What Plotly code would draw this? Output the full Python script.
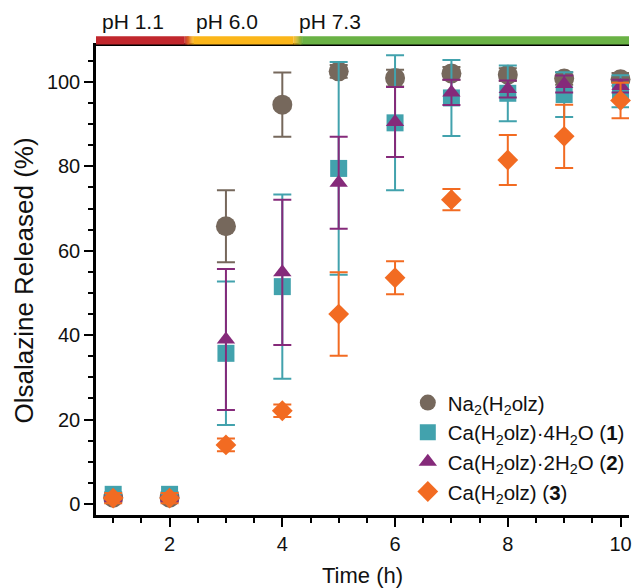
import plotly.graph_objects as go

# ---- data ----
time_h = [1, 2, 3, 4, 5, 6, 7, 8, 9, 10]

na2_mean = [1.5, 1.5, 65.8, 94.6, 102.5, 100.9, 102.0, 101.7, 100.8, 100.6]
na2_err = [0.5, 0.5, 8.5, 7.6, 1.5, 2.0, 1.5, 1.5, 1.5, 1.5]

ca1_mean = [2.3, 2.3, 35.7, 51.5, 79.5, 90.3, 96.2, 97.3, 97.0, 97.8]
ca1_err = [0.5, 0.5, 17.0, 21.8, 25.2, 16.0, 9.0, 6.6, 5.3, 3.8]

ca2_mean = [1.3, 1.3, 39.0, 54.9, 76.1, 90.5, 97.5, 98.3, 99.5, 99.0]
ca2_err = [0.5, 0.5, 16.7, 17.2, 10.9, 8.3, 3.0, 2.0, 2.0, 1.5]

ca3_mean = [1.4, 1.4, 14.0, 22.1, 45.0, 53.6, 72.1, 81.5, 87.1, 95.6]
ca3_err = [1.2, 1.2, 1.5, 1.5, 9.9, 3.9, 2.5, 5.9, 7.5, 4.2]

series_names = [
    "Na<sub>2</sub>(H<sub>2</sub>olz)",
    "Ca(H<sub>2</sub>olz)·4H<sub>2</sub>O (<b>1</b>)",
    "Ca(H<sub>2</sub>olz)·2H<sub>2</sub>O (<b>2</b>)",
    "Ca(H<sub>2</sub>olz) (<b>3</b>)",
]

ph_labels = ["pH 1.1", "pH 6.0", "pH 7.3"]
ph_switch_times = [2.34, 4.28]

x_ticks = [2, 4, 6, 8, 10]
y_ticks = [0, 20, 40, 60, 80, 100]

# ---- style ----
FONT = "Liberation Sans, Arial, Helvetica, sans-serif"
colors = ["#76685c", "#42a2ad", "#852a7a", "#f26b22"]
symbols = ["circle", "square", "triangle-up", "diamond"]
sizes = [20, 17, 16, 16]
ph_colors = [(193, 39, 45), (251, 182, 26), (106, 178, 69)]

X_RANGE = [0.695, 10.15]
Y_RANGE = [-2.6, 108.5]

fig = go.Figure()
for name, mean, err, c, s, sz in zip(
    series_names,
    [na2_mean, ca1_mean, ca2_mean, ca3_mean],
    [na2_err, ca1_err, ca2_err, ca3_err],
    colors, symbols, sizes,
):
    fig.add_trace(go.Scatter(
        x=time_h, y=mean, name=name, mode="markers", cliponaxis=False,
        marker=dict(symbol=s, size=sz, color=c, line=dict(width=0)),
        error_y=dict(type="data", array=err, visible=True, color=c,
                     thickness=2, width=9),
    ))

# pH bar with gradient transitions
shapes = []
bar_y0, bar_y1 = 1.003, 1.021
edges = [X_RANGE[0] - 0.04] + ph_switch_times + [X_RANGE[1] + 0.1]
hw = 0.08
for i, c in enumerate(ph_colors):
    x0 = edges[i] + (hw if i > 0 else 0)
    x1 = edges[i + 1] - (hw if i < len(ph_colors) - 1 else 0)
    shapes.append(dict(type="rect", xref="x", yref="paper", x0=x0, x1=x1,
                       y0=bar_y0, y1=bar_y1, fillcolor="rgb(%d,%d,%d)" % c,
                       line=dict(width=0), layer="above"))
nstep = 10
for k, t in enumerate(ph_switch_times):
    ca, cb = ph_colors[k], ph_colors[k + 1]
    for j in range(nstep):
        f = (j + 0.5) / nstep
        col = tuple(int(round(ca[m] + (cb[m] - ca[m]) * f)) for m in range(3))
        shapes.append(dict(type="rect", xref="x", yref="paper",
                           x0=t - hw + 2 * hw * j / nstep,
                           x1=t - hw + 2 * hw * (j + 1) / nstep + 0.005,
                           y0=bar_y0, y1=bar_y1,
                           fillcolor="rgb(%d,%d,%d)" % col,
                           line=dict(width=0), layer="above"))

label_x = [0.77, 2.44, 4.26]
annotations = [
    dict(text=lab, x=lx, xref="x", y=1.053, yref="paper", xanchor="left",
         yanchor="middle", showarrow=False, font=dict(size=21, color="#111"))
    for lab, lx in zip(ph_labels, label_x)
]

fig.update_layout(
    width=632, height=588,
    margin=dict(l=96, r=0, t=46, b=73),
    paper_bgcolor="white", plot_bgcolor="white",
    font=dict(family=FONT, size=20, color="#111"),
    shapes=shapes, annotations=annotations,
    showlegend=True,
    legend=dict(x=0.585, y=0.282, xanchor="left", yanchor="top",
                bgcolor="rgba(0,0,0,0)", font=dict(size=20.5),
                tracegroupgap=0, itemsizing="trace"),
)
fig.update_xaxes(
    range=X_RANGE, tickvals=x_ticks, showgrid=False, zeroline=False,
    showline=True, linecolor="black", linewidth=2.5, mirror=True,
    ticks="outside", ticklen=9, tickwidth=2, tickcolor="black",
    tickfont=dict(size=20), ticklabeloverflow="allow",
    minor=dict(dtick=0.5, tick0=0, ticks="outside", ticklen=5,
               tickwidth=2, tickcolor="black", showgrid=False),
    title=dict(text="Time (h)", font=dict(size=22), standoff=17),
)
fig.update_yaxes(
    range=Y_RANGE, tickvals=y_ticks, showgrid=False, zeroline=False,
    showline=True, linecolor="black", linewidth=2.5,
    ticks="outside", ticklen=9, tickwidth=2, tickcolor="black",
    tickfont=dict(size=20),
    minor=dict(dtick=5, tick0=0, ticks="outside", ticklen=5,
               tickwidth=2, tickcolor="black", showgrid=False),
    title=dict(text="Olsalazine Released (%)", font=dict(size=26), standoff=6),
)

fig.write_html("out.html", config={"displayModeBar": False},
               post_script="document.body.style.margin='0';document.body.style.overflow='hidden';")
